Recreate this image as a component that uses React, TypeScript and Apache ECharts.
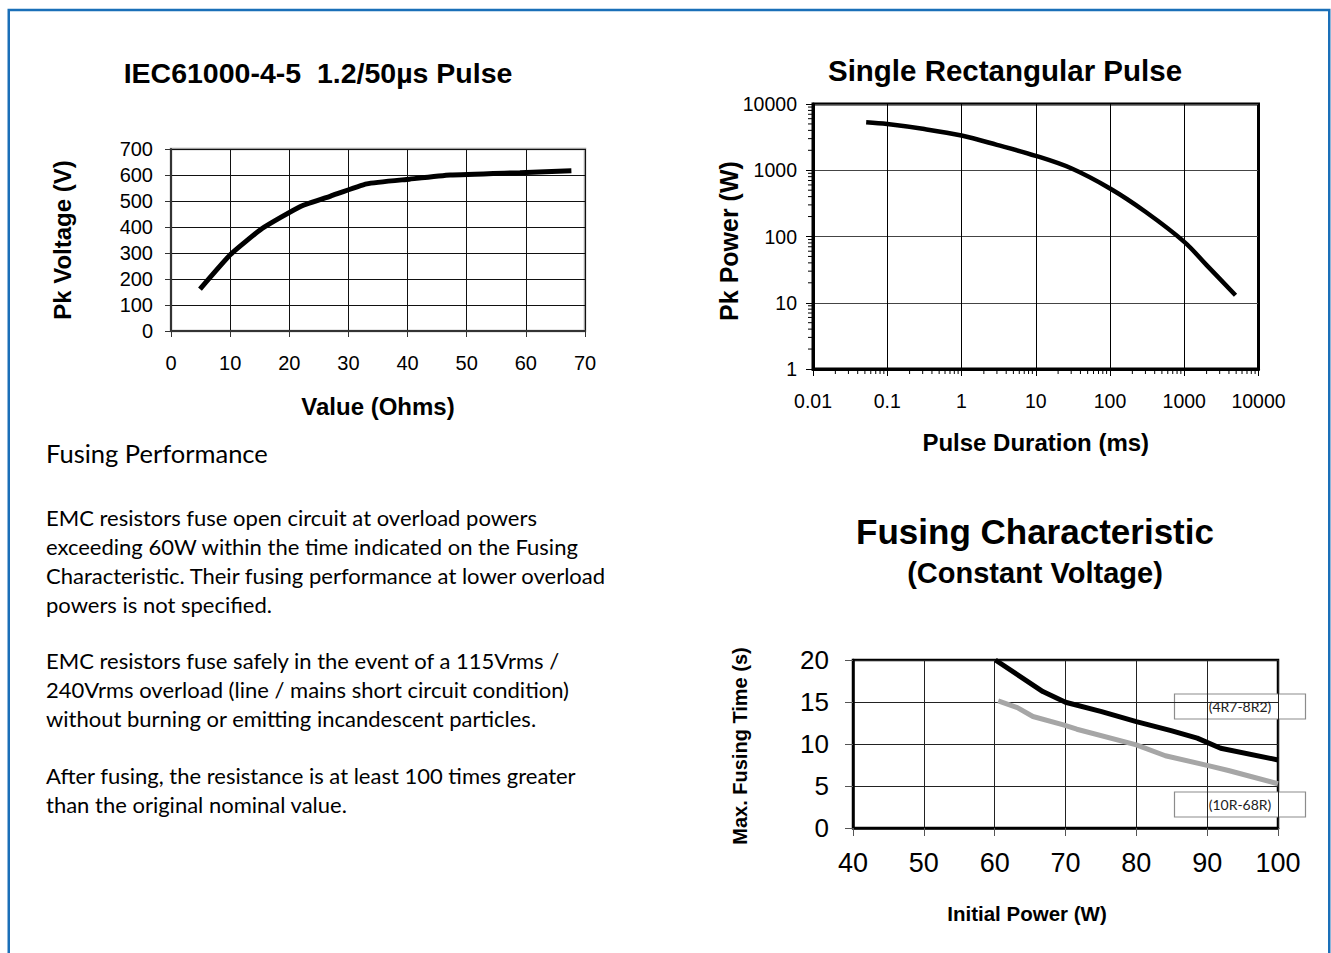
import React, { useEffect, useRef } from "react";
import * as echarts from "echarts";

// ---- Chart 1: IEC61000-4-5 1.2/50us pulse ----
const iecOhms = [4.9, 10.1, 15.4, 21.9, 27, 33.1, 40.3, 47.2, 59, 67.7];
const iecVolts = [161, 295, 394, 479, 519, 566, 584, 600, 609, 616];

// ---- Chart 2: Single rectangular pulse ----
const pulseMs = [0.052, 0.1, 0.3, 1, 3, 10, 30, 100, 300, 1000, 2000, 4900];
const pulseW = [5300, 4980, 4220, 3340, 2420, 1650, 1070, 530, 236, 83, 37, 13];
const minorMultipliers = [2, 3, 4, 5, 6, 7, 8, 9];
const pulseXDecades = [0.01, 0.1, 1, 10, 100, 1000];
const pulseYDecades = [1, 10, 100, 1000];

// ---- Chart 3: Fusing characteristic ----
const fuseBlackW = [60.1, 66.8, 70, 75.1, 80, 84.9, 88.6, 91.9, 100];
const fuseBlackS = [20, 16.24, 14.97, 13.86, 12.67, 11.6, 10.7, 9.5, 8.1];
const fuseGrayW = [60.5, 63.2, 65.4, 69.7, 71.6, 80, 84.1, 90.3, 93, 100];
const fuseGrayS = [15.13, 14.34, 13.27, 12.28, 11.76, 9.9, 8.6, 7.4, 6.85, 5.27];
const fuseLabels = ["(4R7-8R2)", "(10R-68R)"];

const paraTitle = "Fusing Performance";
const paraLines = [
  "EMC resistors fuse open circuit at overload powers",
  "exceeding 60W within the time indicated on the Fusing",
  "Characteristic. Their fusing performance at lower overload",
  "powers is not specified.",
];
const paraLines2 = [
  "EMC resistors fuse safely in the event of a 115Vrms /",
  "240Vrms overload (line / mains short circuit condition)",
  "without burning or emitting incandescent particles.",
];
const paraLines3 = [
  "After fusing, the resistance is at least 100 times greater",
  "than the original nominal value.",
];

const ARIAL = "Liberation Sans, Arial, sans-serif";
const BODY = "Lato, sans-serif";

const zip = (a: number[], b: number[]) => a.map((v, i) => [v, b[i]]);

function fmtLog(v: number) {
  return String(parseFloat(Number(v).toPrecision(4)));
}

export default function App() {
  const ref = useRef<HTMLDivElement>(null);
  useEffect(() => {
    if (!ref.current) return;
    const chart = echarts.init(ref.current, undefined, { renderer: "svg" });

    const xMinor: number[][] = [];
    pulseXDecades.forEach((d) => minorMultipliers.forEach((m) => xMinor.push([m * d, 1])));
    const yMinor: number[][] = [];
    pulseYDecades.forEach((d) => minorMultipliers.forEach((m) => yMinor.push([0.01, m * d])));

    const text = (t: string, x: number, y: number, size: number, opts: any = {}) => ({
      type: "text",
      x,
      y,
      rotation: opts.rotation || 0,
      silent: true,
      z: 100,
      style: {
        text: t,
        fontSize: size,
        fontFamily: opts.family || ARIAL,
        fontWeight: opts.weight || "normal",
        fill: opts.fill || "#000",
        align: opts.align || "center",
        verticalAlign: "middle",
      },
    });

    const BODY_SIZE = 22;
    const paragraphs: any[] = [];
    paraLines.forEach((l, i) => paragraphs.push(text(l, 46, 517 + i * 29, BODY_SIZE, { family: BODY, align: "left" })));
    paraLines2.forEach((l, i) => paragraphs.push(text(l, 46, 660 + i * 29, BODY_SIZE, { family: BODY, align: "left" })));
    paraLines3.forEach((l, i) => paragraphs.push(text(l, 46, 775 + i * 29, BODY_SIZE, { family: BODY, align: "left" })));

    const legendBox = (label: string, y: number) => ({
      type: "group",
      z: 100,
      children: [
        {
          type: "rect",
          shape: { x: 1174.5, y, width: 131, height: 25 },
          style: { fill: "#fff", stroke: "#8c8c8c", lineWidth: 1.2 },
        },
        {
          type: "text",
          x: 1240,
          y: y + 12.5,
          style: {
            text: label,
            fontSize: 14,
            fontFamily: BODY,
            fill: "#222",
            align: "center",
            verticalAlign: "middle",
          },
        },
      ],
    });

    const option: any = {
      animation: false,
      backgroundColor: "#fff",
      grid: [
        { left: 171, top: 149, width: 414, height: 182, show: true, borderColor: "#a0a0a0", borderWidth: 2.5, containLabel: false },
        { left: 813, top: 104, width: 445.5, height: 265, show: true, borderColor: "#000", borderWidth: 3, containLabel: false },
        { left: 853, top: 660, width: 425, height: 168, show: true, borderColor: "#000", borderWidth: 2.5, containLabel: false },
      ],
      xAxis: [
        {
          type: "value",
          gridIndex: 0,
          min: 0,
          max: 70,
          interval: 10,
          axisLine: { show: true, onZero: false, lineStyle: { color: "#333", width: 2 } },
          axisTick: { show: true, length: 6, lineStyle: { color: "#333" } },
          axisLabel: { fontSize: 20, fontFamily: ARIAL, color: "#000", margin: 22 },
          splitLine: { show: true, lineStyle: { color: "#111", width: 1 } },
          name: "Value (Ohms)",
          nameLocation: "middle",
          nameGap: 63,
          nameTextStyle: { fontSize: 24, fontWeight: "bold", fontFamily: ARIAL, color: "#000" },
        },
        {
          type: "log",
          gridIndex: 1,
          logBase: 10,
          min: 0.01,
          max: 10000,
          axisLine: { show: true, onZero: false, lineStyle: { color: "#000", width: 3 } },
          axisTick: { show: true, length: 7, lineStyle: { color: "#000", width: 1 } },
          axisLabel: { fontSize: 19.5, fontFamily: ARIAL, color: "#000", margin: 22, formatter: fmtLog },
          splitLine: { show: true, lineStyle: { color: "#000", width: 1 } },
          name: "Pulse Duration (ms)",
          nameLocation: "middle",
          nameGap: 61,
          nameTextStyle: { fontSize: 24, fontWeight: "bold", fontFamily: ARIAL, color: "#000" },
        },
        {
          type: "value",
          gridIndex: 2,
          min: 40,
          max: 100,
          interval: 10,
          axisLine: { show: true, onZero: false, lineStyle: { color: "#000", width: 2.5 } },
          axisTick: { show: true, length: 8, lineStyle: { color: "#555" } },
          axisLabel: { fontSize: 27, fontFamily: ARIAL, color: "#000", margin: 21 },
          splitLine: { show: true, lineStyle: { color: "#222", width: 1 } },
        },
      ],
      yAxis: [
        {
          type: "value",
          gridIndex: 0,
          min: 0,
          max: 700,
          interval: 100,
          axisLine: { show: true, onZero: false, lineStyle: { color: "#333", width: 2 } },
          axisTick: { show: true, length: 6, lineStyle: { color: "#333" } },
          axisLabel: { fontSize: 20, fontFamily: ARIAL, color: "#000", margin: 18 },
          splitLine: { show: true, lineStyle: { color: "#111", width: 1 } },
          name: "Pk Voltage (V)",
          nameLocation: "middle",
          nameGap: 97,
          nameTextStyle: { fontSize: 24, fontWeight: "bold", fontFamily: ARIAL, color: "#000" },
        },
        {
          type: "log",
          gridIndex: 1,
          logBase: 10,
          min: 1,
          max: 10000,
          axisLine: { show: true, onZero: false, lineStyle: { color: "#000", width: 3 } },
          axisTick: { show: true, length: 7, lineStyle: { color: "#000", width: 1 } },
          axisLabel: { fontSize: 19.5, fontFamily: ARIAL, color: "#000", margin: 16, formatter: fmtLog },
          splitLine: { show: true, lineStyle: { color: "#444", width: 1 } },
        },
        {
          type: "value",
          gridIndex: 2,
          min: 0,
          max: 20,
          interval: 5,
          axisLine: { show: true, onZero: false, lineStyle: { color: "#000", width: 2.5 } },
          axisTick: { show: true, length: 8, lineStyle: { color: "#555" } },
          axisLabel: { fontSize: 26, fontFamily: ARIAL, color: "#000", margin: 24 },
          splitLine: { show: true, lineStyle: { color: "#222", width: 1 } },
        },
      ],
      series: [
        {
          type: "line",
          xAxisIndex: 0,
          yAxisIndex: 0,
          data: zip(iecOhms, iecVolts),
          showSymbol: false,
          smooth: 0.15,
          lineStyle: { color: "#000", width: 5 },
          z: 10,
        },
        {
          type: "line",
          xAxisIndex: 1,
          yAxisIndex: 1,
          data: zip(pulseMs, pulseW),
          showSymbol: false,
          smooth: 0.35,
          lineStyle: { color: "#000", width: 4.5 },
          z: 10,
        },
        {
          type: "custom",
          xAxisIndex: 1,
          yAxisIndex: 1,
          clip: false,
          silent: true,
          data: xMinor,
          renderItem: (_p: any, api: any) => {
            const pt = api.coord([api.value(0), api.value(1)]);
            return {
              type: "line",
              shape: { x1: pt[0], y1: pt[1], x2: pt[0], y2: pt[1] + 5 },
              style: { stroke: "#000", lineWidth: 1 },
            };
          },
          z: 20,
        },
        {
          type: "custom",
          xAxisIndex: 1,
          yAxisIndex: 1,
          clip: false,
          silent: true,
          data: yMinor,
          renderItem: (_p: any, api: any) => {
            const pt = api.coord([api.value(0), api.value(1)]);
            return {
              type: "line",
              shape: { x1: pt[0] - 5, y1: pt[1], x2: pt[0], y2: pt[1] },
              style: { stroke: "#000", lineWidth: 1 },
            };
          },
          z: 20,
        },
        {
          type: "line",
          name: fuseLabels[0],
          xAxisIndex: 2,
          yAxisIndex: 2,
          data: zip(fuseBlackW, fuseBlackS),
          showSymbol: false,
          lineStyle: { color: "#000", width: 5 },
          z: 10,
        },
        {
          type: "line",
          name: fuseLabels[1],
          xAxisIndex: 2,
          yAxisIndex: 2,
          data: zip(fuseGrayW, fuseGrayS),
          showSymbol: false,
          lineStyle: { color: "#a6a6a6", width: 5 },
          z: 9,
        },
      ],
      graphic: [
        {
          type: "rect",
          z: 0,
          silent: true,
          shape: { x: 8.75, y: 10, width: 1320.5, height: 980 },
          style: { fill: "none", stroke: "#1a6fb8", lineWidth: 2.5 },
        },
        text("IEC61000-4-5  1.2/50µs Pulse", 318, 73, 28.5, { weight: "bold" }),
        text("Single Rectangular Pulse", 1005, 70, 29.5, { weight: "bold" }),
        text("Pk Power (W)", 729, 241, 25, { weight: "bold", rotation: Math.PI / 2 }),
        text("Fusing Characteristic", 1035, 531, 35, { weight: "bold" }),
        text("(Constant Voltage)", 1035, 573, 29, { weight: "bold" }),
        text("Initial Power (W)", 1027, 913, 20.5, { weight: "bold" }),
        text("Max. Fusing Time (s)", 740, 746, 20, { weight: "bold", rotation: Math.PI / 2 }),
        text(paraTitle, 46, 453, 25.5, { family: BODY, align: "left" }),
        ...paragraphs,
        legendBox(fuseLabels[0], 694),
        legendBox(fuseLabels[1], 792),
      ],
    };
    chart.setOption(option);
    return () => chart.dispose();
  }, []);
  return (
    <div
      ref={ref}
      style={{ position: "absolute", left: 0, top: 0, width: 1331, height: 953, background: "#fff" }}
    />
  );
}
